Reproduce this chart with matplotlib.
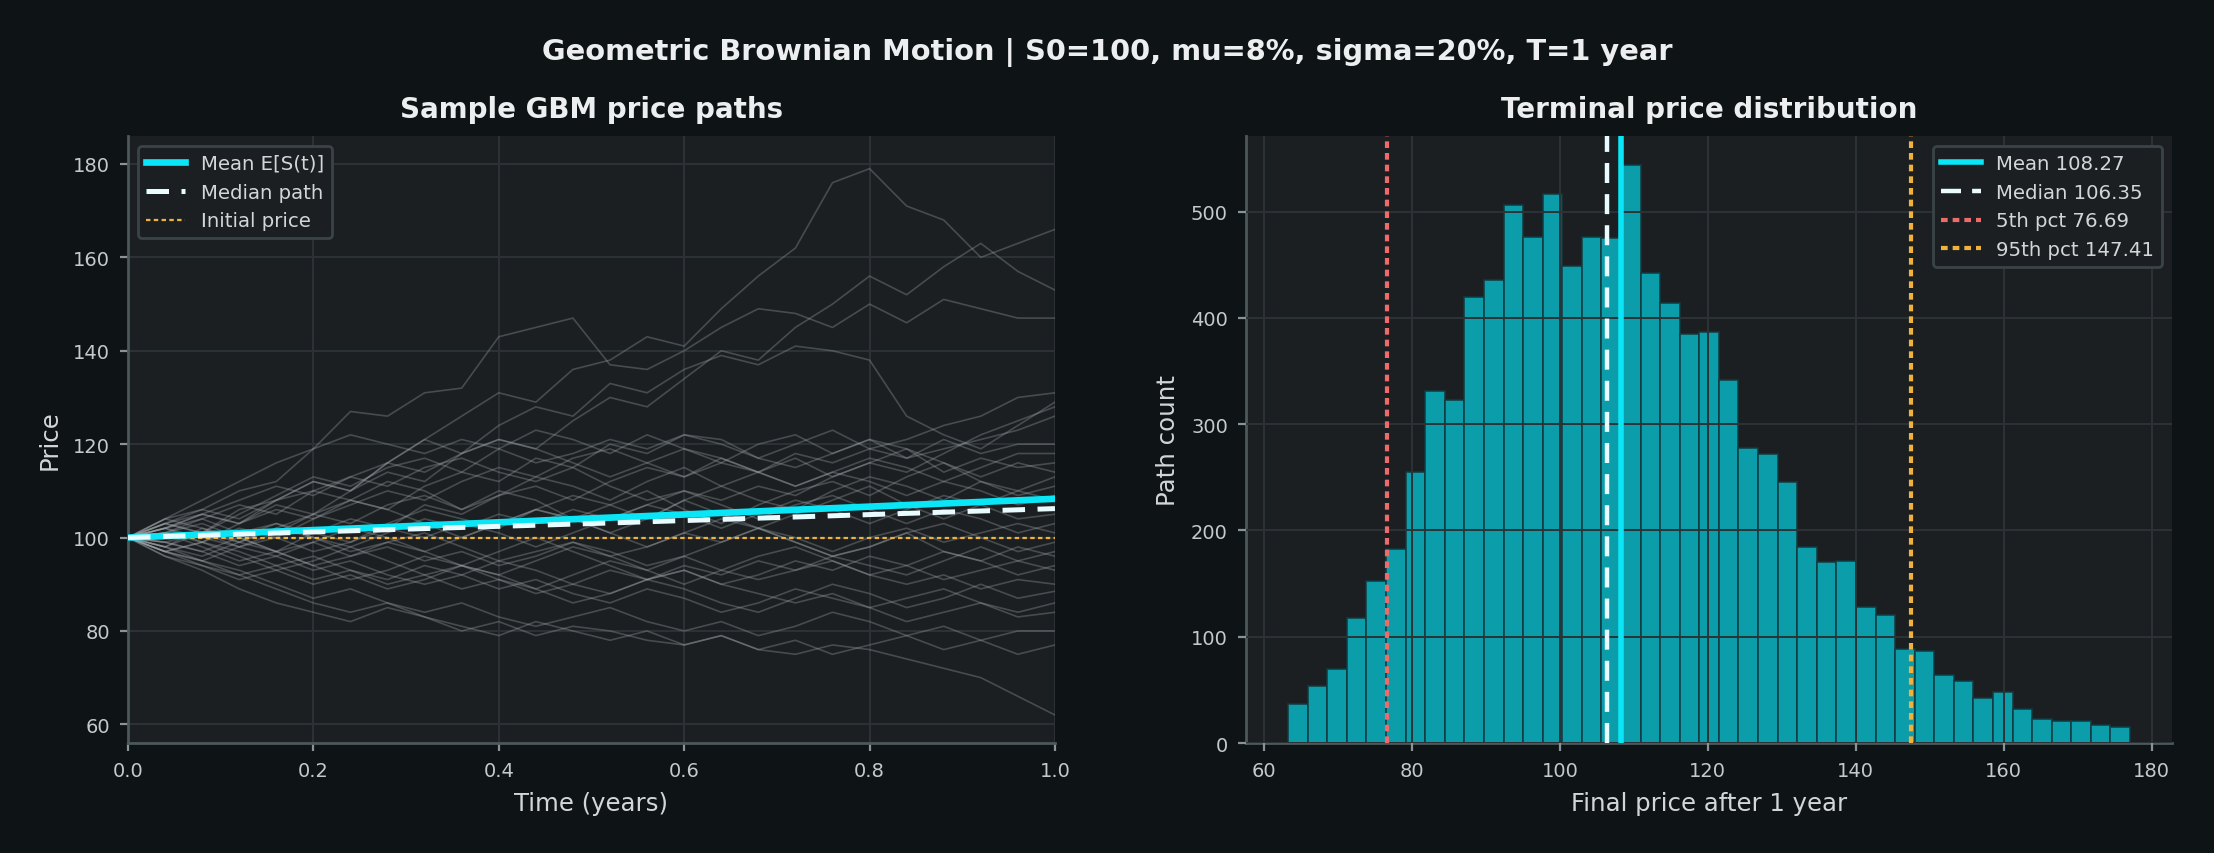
import matplotlib.pyplot as plt
import numpy as np

# ---- data ----
s0 = 100
t_grid = np.linspace(0, 1, 26)

sample_paths = [
    [100, 103, 101, 106, 108, 112, 110, 116, 121, 126, 131, 129, 136, 138, 143, 141, 149, 156, 162, 176, 179, 171, 168, 160, 163, 166],
    [100, 104, 106, 110, 112, 119, 127, 126, 131, 132, 143, 145, 147, 137, 136, 140, 145, 149, 148, 145, 150, 146, 151, 149, 147, 147],
    [100, 101, 99, 103, 107, 105, 110, 114, 112, 118, 121, 119, 125, 130, 128, 134, 140, 138, 145, 150, 156, 152, 158, 163, 157, 153],
    [100, 102, 105, 103, 108, 112, 110, 116, 121, 118, 124, 128, 126, 133, 131, 136, 139, 137, 141, 140, 138, 126, 122, 119, 124, 129],
    [100, 97, 99, 102, 100, 104, 108, 106, 111, 114, 112, 117, 115, 120, 118, 122, 121, 117, 120, 123, 119, 121, 124, 126, 130, 131],
    [100, 103, 101, 105, 109, 113, 111, 115, 117, 114, 119, 123, 121, 118, 122, 119, 116, 120, 122, 118, 121, 117, 119, 121, 123, 126],
    [100, 98, 102, 100, 97, 101, 104, 102, 107, 105, 109, 111, 108, 112, 115, 113, 117, 114, 118, 116, 119, 117, 121, 118, 120, 120],
    [100, 101, 104, 107, 105, 110, 108, 112, 110, 106, 109, 113, 111, 108, 112, 115, 111, 114, 117, 113, 116, 119, 114, 117, 115, 116],
    [100, 99, 97, 100, 103, 101, 99, 103, 106, 104, 102, 106, 109, 107, 104, 108, 111, 108, 106, 110, 113, 111, 108, 112, 110, 113],
    [100, 102, 100, 98, 101, 105, 103, 107, 109, 106, 110, 108, 104, 107, 110, 106, 103, 107, 110, 112, 109, 113, 116, 112, 109, 111],
    [100, 97, 95, 98, 96, 99, 102, 100, 97, 100, 103, 106, 104, 101, 104, 108, 105, 102, 105, 108, 111, 107, 104, 107, 110, 108],
    [100, 103, 106, 104, 108, 110, 113, 111, 115, 117, 114, 112, 115, 111, 108, 110, 107, 104, 107, 109, 106, 103, 106, 104, 101, 103],
    [100, 98, 96, 99, 97, 94, 96, 99, 97, 94, 92, 95, 98, 96, 93, 96, 99, 102, 99, 96, 98, 101, 97, 95, 98, 96],
    [100, 101, 98, 95, 97, 94, 91, 93, 96, 94, 91, 89, 92, 95, 93, 90, 93, 96, 98, 95, 92, 94, 97, 95, 92, 94],
    [100, 97, 99, 96, 93, 95, 98, 95, 92, 94, 97, 100, 97, 94, 91, 93, 90, 92, 95, 93, 96, 94, 91, 93, 95, 93],
    [100, 96, 94, 91, 93, 90, 92, 89, 91, 94, 92, 89, 86, 88, 91, 89, 86, 84, 87, 90, 88, 85, 87, 90, 87, 88.5],
    [100, 102, 99, 97, 94, 96, 93, 91, 94, 92, 89, 91, 88, 86, 89, 87, 84, 86, 89, 87, 85, 82, 84, 86, 83, 84],
    [100, 98, 95, 93, 90, 87, 89, 86, 84, 86, 83, 81, 83, 85, 82, 80, 82, 79, 81, 84, 82, 79, 81, 78, 80, 80],
    [100, 97, 94, 92, 89, 86, 84, 86, 83, 81, 79, 82, 80, 78, 80, 77, 79, 76, 78, 75, 77, 79, 76, 78, 75, 77],
    [100, 96, 93, 89, 86, 84, 82, 85, 83, 80, 82, 79, 81, 80, 78, 77, 79, 76, 75, 77, 76, 74, 72, 70, 66, 62],
    [100, 104, 102, 99, 102, 105, 108, 106, 103, 100, 103, 106, 104, 101, 98, 101, 104, 102, 99, 96, 98, 101, 103, 100, 97, 99],
    [100, 99, 101, 98, 100, 97, 99, 102, 100, 103, 101, 98, 101, 104, 107, 105, 102, 105, 108, 106, 103, 106, 109, 107, 104, 105],
    [100, 102, 105, 108, 111, 109, 113, 116, 114, 118, 121, 119, 116, 113, 116, 119, 117, 114, 111, 114, 117, 115, 112, 115, 118, 118],
    [100, 104, 108, 112, 116, 119, 122, 120, 118, 121, 119, 116, 118, 121, 119, 122, 120, 117, 115, 118, 121, 119, 116, 113, 116, 114],
    [100, 101, 103, 100, 97, 99, 96, 98, 95, 97, 94, 96, 99, 97, 94, 96, 93, 91, 93, 95, 92, 90, 92, 89, 91, 90],
    [100, 99, 97, 94, 96, 93, 95, 92, 90, 92, 95, 93, 90, 88, 91, 93, 90, 88, 86, 88, 85, 87, 89, 86, 84, 86],
    [100, 103, 105, 103, 106, 104, 107, 110, 108, 112, 115, 113, 117, 119, 116, 113, 116, 114, 111, 114, 112, 109, 112, 110, 107, 109],
    [100, 98, 101, 99, 102, 100, 98, 101, 104, 102, 105, 103, 106, 104, 107, 110, 108, 111, 109, 113, 116, 114, 118, 122, 125, 128],
    [100, 97, 95, 92, 94, 91, 93, 90, 92, 89, 91, 88, 90, 93, 91, 94, 92, 95, 93, 96, 94, 92, 95, 98, 95, 97],
    [100, 102, 104, 101, 103, 100, 97, 99, 101, 98, 95, 97, 99, 96, 98, 101, 99, 102, 100, 97, 100, 102, 99, 101, 103, 101],
]

curve_t = [0.0, 0.25, 0.5, 0.75, 1.0]
mean_curve = [100.0, 102.0, 104.1, 106.2, 108.3]
median_curve = [100.0, 101.5, 103.0, 104.6, 106.2]

# terminal price histogram
bin_start = 63.28
bin_width = 2.646
counts = [37, 54, 70, 118, 152, 183, 255, 331, 323, 420, 436, 506, 476, 517, 449,
          476, 475, 544, 442, 414, 385, 387, 342, 278, 272, 246, 184, 170, 171, 128,
          120, 88, 87, 64, 58, 42, 48, 32, 23, 21, 21, 17, 15]
term_mean = 108.27
term_median = 106.35
pct5 = 76.69
pct95 = 147.41

# ---- style ----
FIG_BG = '#0e1315'
AX_BG = '#1c1f22'
GRID = '#2b3336'
SPINE = '#4d585b'
TXT = '#d2d6d8'
CYAN = '#0ae6f5'
WHITE = '#e8fbff'
RED = '#ee6b6b'
ORANGE = '#f0b23e'

plt.rcParams['font.family'] = ['DejaVu Sans']

fig = plt.figure(figsize=(11.07, 4.27), dpi=200, facecolor=FIG_BG)
ax1 = fig.add_axes([0.0578, 0.1288, 0.4187, 0.7108])
ax2 = fig.add_axes([0.5628, 0.1288, 0.4183, 0.7108])


def style_axes(ax):
    ax.set_facecolor(AX_BG)
    for side in ('top', 'right'):
        ax.spines[side].set_visible(False)
    for side in ('left', 'bottom'):
        ax.spines[side].set_color(SPINE)
        ax.spines[side].set_linewidth(1.0)
    ax.tick_params(colors='#c4cacc', labelsize=7, length=3, width=0.8)
    ax.tick_params(axis='both', color='#8a9497')
    ax.grid(True, color=GRID, linewidth=0.7)


# left panel: sample paths
style_axes(ax1)
for p in sample_paths:
    ax1.plot(t_grid, p, color='#aab3b7', alpha=0.3, linewidth=0.6)
ax1.plot(curve_t, mean_curve, color=CYAN, linewidth=2.4, label='Mean E[S(t)]', zorder=4)
ax1.plot(curve_t, median_curve, color=WHITE, linewidth=1.8, linestyle=(0, (4.5, 2.5)),
         label='Median path', zorder=5)
ax1.axhline(s0, color=ORANGE, linewidth=0.8, linestyle=(0, (2, 1.5)), label='Initial price', zorder=3)
ax1.set_xlim(0, 1)
ax1.set_ylim(56, 186)
ax1.set_yticks([60, 80, 100, 120, 140, 160, 180])
ax1.set_xlabel('Time (years)', color=TXT, fontsize=8.8)
ax1.set_ylabel('Price', color=TXT, fontsize=8.8)
ax1.set_title('Sample GBM price paths', color='#eceeef', fontsize=10, fontweight='bold', pad=7)
ax1.legend(loc='upper left', fontsize=7.1, facecolor=AX_BG, edgecolor='#3a4347',
           labelcolor=TXT, framealpha=1.0)

# right panel: terminal distribution
style_axes(ax2)
ax2.set_axisbelow(False)
edges = bin_start + bin_width * np.arange(len(counts))
ax2.bar(edges, counts, width=bin_width, align='edge', color='#0aa9b6', alpha=0.92,
        edgecolor='#123a40', linewidth=0.6)
ax2.axvline(term_mean, color=CYAN, linewidth=2.0, label=f'Mean {term_mean:.2f}', zorder=4)
ax2.axvline(term_median, color=WHITE, linewidth=1.6, linestyle=(0, (4.5, 2.5)),
            label=f'Median {term_median:.2f}', zorder=4)
ax2.axvline(pct5, color=RED, linewidth=1.5, linestyle=(0, (1.6, 1.2)),
            label=f'5th pct {pct5:.2f}', zorder=4)
ax2.axvline(pct95, color=ORANGE, linewidth=1.5, linestyle=(0, (1.6, 1.2)),
            label=f'95th pct {pct95:.2f}', zorder=4)
ax2.set_xticks([60, 80, 100, 120, 140, 160, 180])
ax2.set_xlabel('Final price after 1 year', color=TXT, fontsize=8.8)
ax2.set_ylabel('Path count', color=TXT, fontsize=8.8)
ax2.set_title('Terminal price distribution', color='#eceeef', fontsize=10, fontweight='bold', pad=7)
ax2.legend(loc='upper right', fontsize=7.1, facecolor=AX_BG, edgecolor='#3a4347',
           labelcolor=TXT, framealpha=1.0)

fig.suptitle('Geometric Brownian Motion | S0=100, mu=8%, sigma=20%, T=1 year',
             color='#eceeef', fontsize=10.4, fontweight='bold', y=0.955)

fig.savefig('out.png', dpi=200, facecolor=FIG_BG)
plt.close(fig)
